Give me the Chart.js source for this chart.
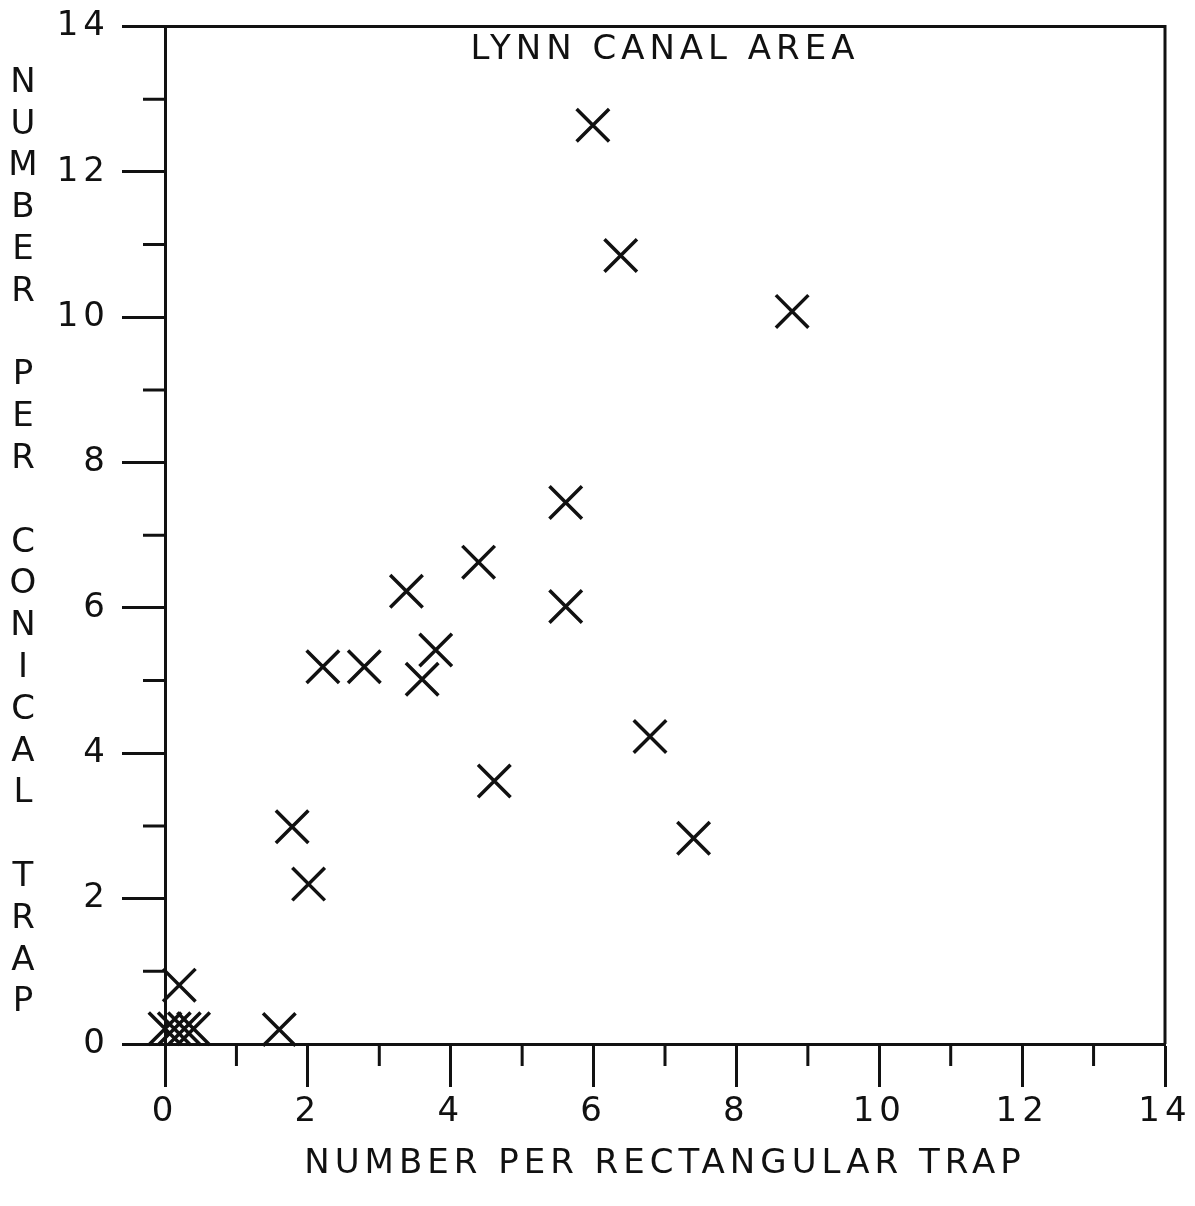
<!DOCTYPE html>
<html>
<head>
<meta charset="utf-8">
<script src="https://cdn.jsdelivr.net/npm/chart.js@4.4.1/dist/chart.umd.min.js"></script>
<style>
  html, body { margin: 0; padding: 0; background: #fff; }
  canvas { display: block; }
</style>
</head>
<body>
<canvas id="myChart" width="1195" height="1206"></canvas>
<script>
// Dataset
const chartTitle = "LYNN CANAL AREA";
const xTitle = "NUMBER PER RECTANGULAR TRAP";
const yTitle = "NUMBER PER CONICAL TRAP";

// number per rectangular trap (x) and per conical trap (y), one entry per station
const rectangular = [0, 0.13, 0.27, 0.40, 0.20, 1.60, 1.78, 2.01, 2.21, 2.79, 3.38,
  3.60, 3.79, 4.39, 4.61, 5.61, 5.61, 5.99, 6.38, 6.79, 7.40, 8.78];
const conical = [0.21, 0.21, 0.21, 0.21, 0.81, 0.20, 2.99, 2.20, 5.19, 5.19, 6.23,
  5.02, 5.42, 6.63, 3.62, 7.45, 6.02, 12.64, 10.85, 4.23, 2.83, 10.08];

const axisMin = 0;
const axisMax = 14;
const majorTicks = [0, 2, 4, 6, 8, 10, 12, 14];

const points = rectangular.map((x, i) => ({ x: x, y: conical[i] }));

const FONT = "'DejaVu Sans', sans-serif";
const INK = "#111";

// minor ticks, border box, in-plot title and stacked y title
const plotterDecor = {
  id: "plotterDecor",
  beforeDraw(chart) {
    chart.ctx.letterSpacing = "5px";
  },
  afterDraw(chart) {
    const { ctx, chartArea } = chart;
    const xs = chart.scales.x;
    const ys = chart.scales.y;
    ctx.save();
    ctx.strokeStyle = INK;
    ctx.lineWidth = 3;
    ctx.beginPath();
    // top and right sides of the box
    ctx.moveTo(chartArea.left, chartArea.top);
    ctx.lineTo(chartArea.right, chartArea.top);
    ctx.lineTo(chartArea.right, chartArea.bottom);
    // short ticks on odd values
    for (let v = axisMin; v <= axisMax; v++) {
      if (majorTicks.includes(v)) continue;
      const px = xs.getPixelForValue(v);
      ctx.moveTo(px, chartArea.bottom);
      ctx.lineTo(px, chartArea.bottom + 22);
      const py = ys.getPixelForValue(v);
      ctx.moveTo(chartArea.left, py);
      ctx.lineTo(chartArea.left - 22, py);
    }
    ctx.stroke();

    ctx.fillStyle = INK;
    ctx.letterSpacing = "5px";
    ctx.font = "34px " + FONT;
    ctx.textAlign = "center";
    ctx.textBaseline = "middle";
    ctx.fillText(chartTitle, (chartArea.left + chartArea.right) / 2, 50);

    ctx.letterSpacing = "0px";
    const chars = yTitle.split("");
    chars.forEach((c, i) => {
      if (c !== " ") ctx.fillText(c, 23, 83 + i * 41.8);
    });
    ctx.restore();
  },
};

// Style Configurations
const config = {
  type: "scatter",
  data: {
    datasets: [
      {
        label: "Lynn Canal",
        data: points,
        pointStyle: "crossRot",
        pointRadius: 23,
        pointHoverRadius: 23,
        borderColor: INK,
        backgroundColor: INK,
        borderWidth: 3.5,
        clip: false,
      },
    ],
  },
  options: {
    responsive: false,
    devicePixelRatio: 1,
    animation: false,
    layout: { padding: { left: 0, top: 22, right: 30, bottom: 0 } },
    plugins: {
      legend: { display: false },
      title: { display: false },
      tooltip: { enabled: false },
    },
    scales: {
      x: {
        type: "linear",
        min: axisMin,
        max: axisMax,
        afterFit: (s) => {
          s.height = 162;
          s.paddingLeft = 0;
          s.paddingRight = 0;
        },
        afterBuildTicks: (s) => {
          s.ticks = [];
          for (let v = axisMin; v <= axisMax; v++) s.ticks.push({ value: v });
        },
        ticks: {
          autoSkip: false,
          maxRotation: 0,
          padding: 5,
          color: INK,
          font: { family: FONT, size: 34 },
          callback: (v) => (majorTicks.includes(v) ? String(v) : ""),
        },
        grid: {
          drawOnChartArea: false,
          tickLength: 43,
          tickWidth: 3,
          tickColor: (c) => (c.tick && majorTicks.includes(c.tick.value) ? INK : "rgba(0,0,0,0)"),
        },
        border: { display: true, color: INK, width: 3 },
        title: {
          display: true,
          text: xTitle,
          color: INK,
          font: { family: FONT, size: 34 },
          padding: { top: 0, bottom: 21 },
        },
      },
      y: {
        type: "linear",
        min: axisMin,
        max: axisMax,
        afterFit: (s) => {
          s.width = 165;
          s.paddingTop = 0;
          s.paddingBottom = 0;
        },
        afterBuildTicks: (s) => {
          s.ticks = [];
          for (let v = axisMin; v <= axisMax; v++) s.ticks.push({ value: v });
        },
        ticks: {
          autoSkip: false,
          padding: 12,
          color: INK,
          font: { family: FONT, size: 34 },
          callback: (v) => (majorTicks.includes(v) ? String(v) : ""),
        },
        grid: {
          drawOnChartArea: false,
          tickLength: 43,
          tickWidth: 3,
          tickColor: (c) => (c.tick && majorTicks.includes(c.tick.value) ? INK : "rgba(0,0,0,0)"),
        },
        border: { display: true, color: INK, width: 3 },
      },
    },
  },
  plugins: [plotterDecor],
};

// Plotting
const ctx = document.getElementById("myChart").getContext("2d");
const scatterChart = new Chart(ctx, config);
</script>
</body>
</html>
